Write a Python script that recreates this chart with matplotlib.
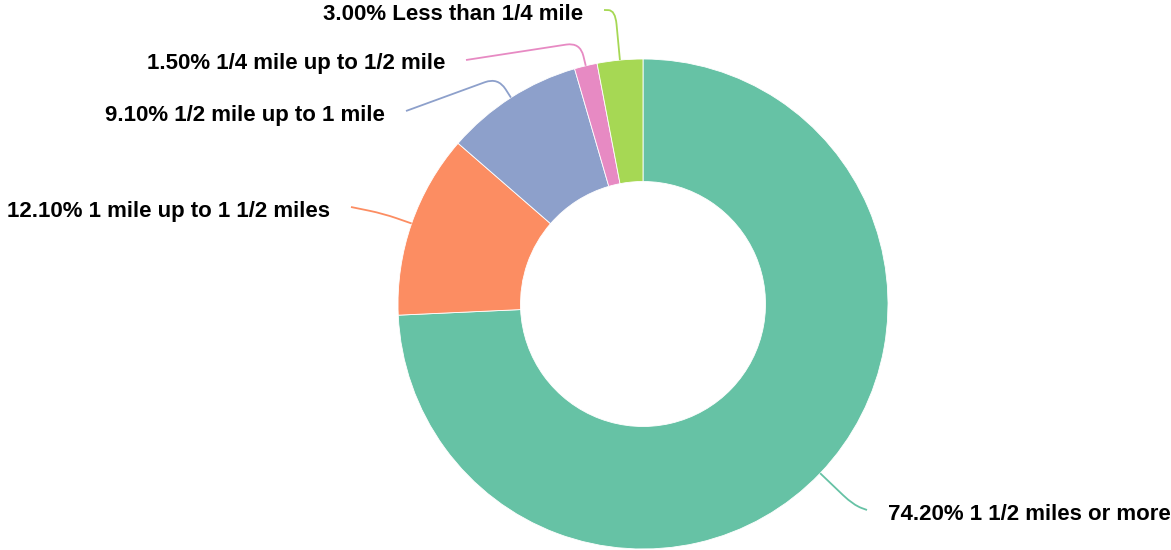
import numpy as np
import matplotlib
matplotlib.use("Agg")
import matplotlib.pyplot as plt
from matplotlib.path import Path
from matplotlib.patches import PathPatch

# Data
categories = ["1 1/2 miles or more", "1 mile up to 1 1/2 miles",
              "1/2 mile up to 1 mile", "1/4 mile up to 1/2 mile",
              "Less than 1/4 mile"]
shares = [74.2, 12.1, 9.1, 1.5, 3.0]
colors = ["#66c2a5", "#fc8d62", "#8da0cb", "#e78ac3", "#a6d854"]

# Layout (pixels, origin top-left)
W, H = 1171, 550
cx, cy = 643, 304
R = 245
label_anchor = [(888, 514, "left"), (330, 211, "right"), (385, 115, "right"),
                (445, 64, "right"), (583, 14, "right")]
leader_len = [46, 30, 24, 24, 50]


def py(y):
    return H - y


fig = plt.figure(figsize=(W / 100, H / 100), dpi=100)
ax = fig.add_axes([0, 0, 1, 1])

ax.pie(shares, colors=colors, startangle=90, counterclock=False,
       center=(cx, py(cy)), radius=R,
       wedgeprops=dict(width=R * 0.5, edgecolor="white", linewidth=0.6))

ax.set_xlim(0, W)
ax.set_ylim(0, H)
ax.set_aspect("equal")
ax.axis("off")

total = sum(shares)
cum = np.cumsum([0] + shares[:-1])
for i, (name, v) in enumerate(zip(categories, shares)):
    theta = np.deg2rad(90 - 360 * (cum[i] + v / 2) / total)
    d = np.array([np.cos(theta), np.sin(theta)])
    A = np.array([cx, py(cy)]) + R * d
    B = A + leader_len[i] * d
    tx, ty, ha = label_anchor[i]
    C = np.array([tx - 21 if ha == "left" else tx + 21, py(ty - 4)])
    # rounded corner
    r = 14
    ab = B - A
    bc = C - B
    B1 = B - ab / np.linalg.norm(ab) * min(r, np.linalg.norm(ab) * 0.6)
    B2 = B + bc / np.linalg.norm(bc) * min(r, np.linalg.norm(bc) * 0.6)
    path = Path([A, B1, B, B2, C],
                [Path.MOVETO, Path.LINETO, Path.CURVE3, Path.CURVE3, Path.LINETO])
    ax.add_patch(PathPatch(path, fill=False, edgecolor=colors[i], linewidth=1.3))
    ax.text(tx, py(ty), f"{v:.2f}% {name}", ha=ha, va="center",
            fontsize=16, fontweight="bold", family="Liberation Sans",
            color="black")

fig.savefig("out.png", dpi=100)
